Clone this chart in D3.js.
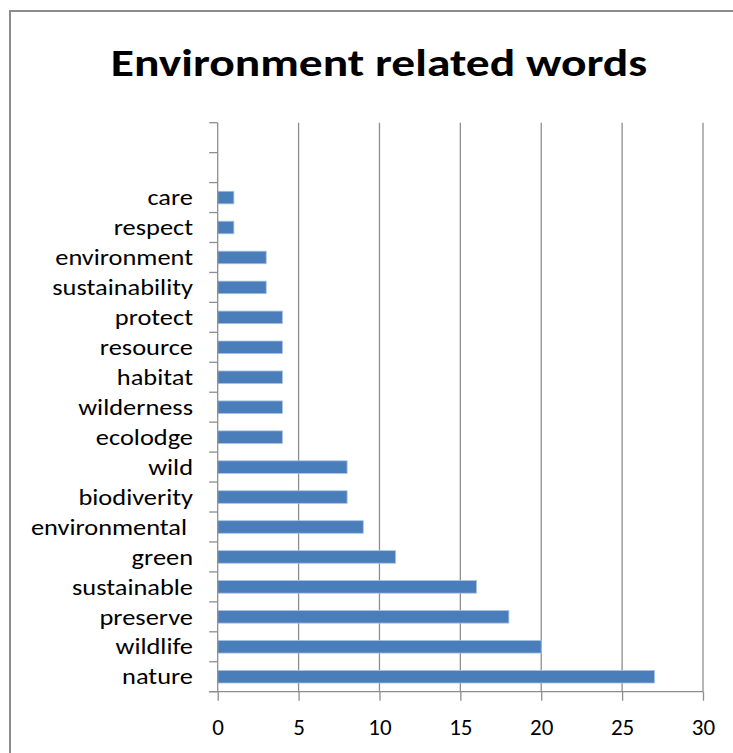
<!DOCTYPE html>
<html>
<head>
<meta charset="utf-8">
<script src="https://cdn.jsdelivr.net/npm/d3@7"></script>
<style>
  html, body { margin: 0; padding: 0; background: #fff; }
  svg { display: block; }
  text { font-family: Carlito, Lato, "Open Sans", sans-serif; fill: #000; }
</style>
</head>
<body>
<svg id="chart" width="733" height="753"></svg>
<script>
// Data (bottom-to-top order as in the chart)
const categories = ["nature", "wildlife", "preserve", "sustainable", "green", "environmental ",
  "biodiverity", "wild", "ecolodge", "wilderness", "habitat", "resource", "protect",
  "sustainability", "environment", "respect", "care", "", " "];
const values = [27, 20, 18, 16, 11, 9, 8, 8, 4, 4, 4, 4, 4, 3, 3, 1, 1, null, null];
const xTicks = [0, 5, 10, 15, 20, 25, 30];
const title = "Environment related words";

const svg = d3.select("#chart");

// outer chart border (right/bottom edges fall outside the view)
svg.append("rect")
  .attr("x", 10).attr("y", 11)
  .attr("width", 760).attr("height", 780)
  .attr("fill", "#fff").attr("stroke", "#8c8c8c").attr("stroke-width", 2);

const plot = { left: 217.7, right: 703, top: 122.7, bottom: 691.7 };

const x = d3.scaleLinear().domain([0, 30]).range([plot.left, plot.right]);
const y = d3.scaleBand().domain(categories).range([plot.bottom, plot.top]).paddingInner(0.58).paddingOuter(0.29);
const yb = d3.scaleBand().domain(categories).range([plot.bottom, plot.top]);

// Title
svg.append("text")
  .attr("transform", "translate(379,75.7) scale(1.25,1)")
  .attr("text-anchor", "middle")
  .attr("font-size", 38).attr("font-weight", "bold")
  .text(title);

// vertical gridlines
svg.append("g").selectAll("line").data(xTicks.slice(1)).join("line")
  .attr("x1", d => x(d)).attr("x2", d => x(d))
  .attr("y1", plot.top).attr("y2", plot.bottom)
  .attr("stroke", "#8e8e8e").attr("stroke-width", 1.3);

// bars
const data = categories.map((c, i) => ({ c, v: values[i] })).filter(d => d.v != null);
svg.append("g").selectAll("rect").data(data).join("rect")
  .attr("x", x(0))
  .attr("y", d => y(d.c))
  .attr("width", d => x(d.v) - x(0))
  .attr("height", y.bandwidth())
  .attr("fill", "#4a7ebb")
  .attr("stroke", "#a9c2e2").attr("stroke-width", 0.8);

// x axis
const xAxis = d3.axisBottom(x).tickValues(xTicks).tickSize(9).tickPadding(12);
const gx = svg.append("g").attr("transform", `translate(0,${plot.bottom})`).call(xAxis);
gx.select(".domain").attr("stroke", "#8e8e8e").attr("stroke-width", 1.3)
  .attr("d", `M${plot.left - 8.5},0H${plot.right}`);
gx.selectAll(".tick line").attr("stroke", "#8e8e8e").attr("stroke-width", 1.3);
gx.selectAll(".tick text")
  .attr("font-size", 23).attr("dy", null).attr("y", 43)
  .attr("font-family", "Carlito, Lato, 'Open Sans', sans-serif").attr("fill", "#000");

// y axis: line and ticks at category boundaries
const gy = svg.append("g");
gy.append("line")
  .attr("x1", plot.left).attr("x2", plot.left)
  .attr("y1", plot.top).attr("y2", plot.bottom)
  .attr("stroke", "#8e8e8e").attr("stroke-width", 1.3);
const bounds = categories.map(c => yb(c)).concat([plot.bottom]);
gy.selectAll("line.tk").data(bounds).join("line").attr("class", "tk")
  .attr("x1", plot.left - 8.5).attr("x2", plot.left)
  .attr("y1", d => d).attr("y2", d => d)
  .attr("stroke", "#8e8e8e").attr("stroke-width", 1.3);

// category labels
gy.selectAll("text").data(categories).join("text")
  .attr("transform", d => `translate(193,${yb(d) + yb.bandwidth() / 2}) scale(1.2,1)`)
  .attr("dy", "0.35em")
  .attr("text-anchor", "end")
  .attr("font-size", 22)
  .style("white-space", "pre")
  .text(d => d);
</script>
</body>
</html>
